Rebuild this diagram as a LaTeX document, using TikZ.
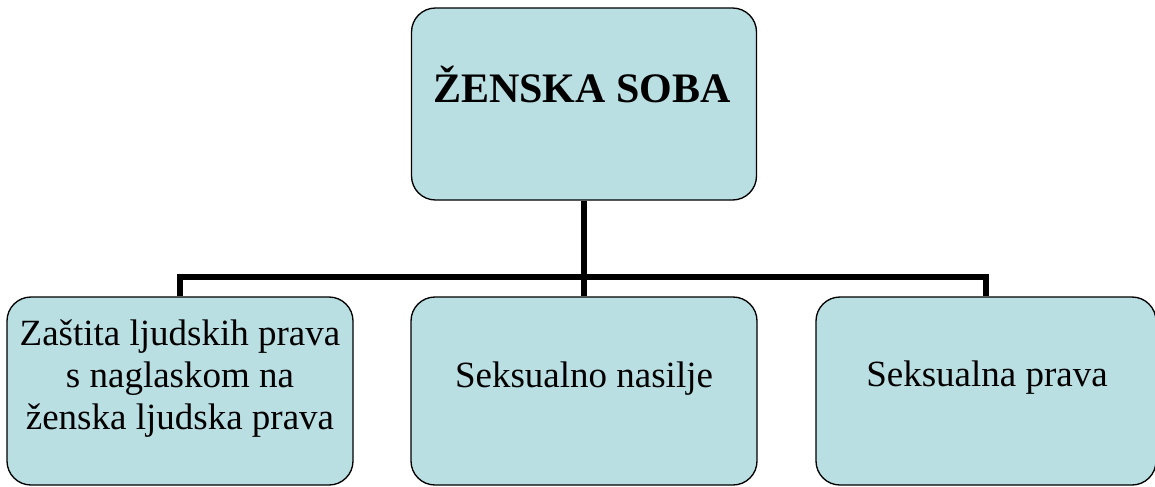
\documentclass[tikz,border=0pt]{standalone}
\usepackage{fontspec}
\setmainfont{Liberation Serif}
\definecolor{boxblue}{RGB}{185,223,227}
\tikzset{
  box/.style={draw=black, line width=1pt, fill=boxblue, rounded corners=18pt,
    minimum width=#1, inner sep=0pt},
  boxtext/.style={font=\fontsize{27.75}{31.5}\selectfont, align=center, inner sep=0pt, anchor=base},
  conn/.style={line width=3.9pt, line join=miter}
}
\begin{document}
\begin{tikzpicture}[x=0.75pt,y=-0.75pt]
        \useasboundingbox (0,0) rectangle (1155,486);

        % Top box
        \node[box=258.75pt, minimum height=144pt] (top) at (584,104) {};
        \node[font=\fontsize{31.5}{36}\selectfont\bfseries, inner sep=0pt, anchor=base] (toptext) at (582,102) {ŽENSKA SOBA};

        % Bottom boxes
        \node[box=259.5pt, minimum height=141pt] (left) at (180,391) {};
        \node[box=259.5pt, minimum height=141pt] (mid) at (584,391) {};
        \node[box=255pt, minimum height=141pt] (right) at (986,391) {};

        % Texts of the bottom boxes (base is the last line)
        \node[boxtext] (lefttext) at (180,429) {Zaštita ljudskih prava\\s naglaskom na\\ženska ljudska prava};
        \node[boxtext] (midtext) at (584,387) {Seksualno nasilje};
        \node[boxtext] (righttext) at (987,386) {Seksualna prava};

        % Connectors
        \coordinate (split) at (584,277);
        \draw[conn] (top.south) -- (split);
        \draw[conn] (left.north) |- (split) -| (right.north);
        \draw[conn] (mid.north) -- (split);
      \end{tikzpicture}
\end{document}
